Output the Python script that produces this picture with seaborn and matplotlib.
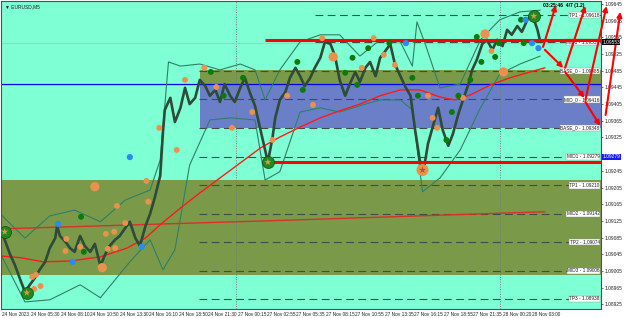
import matplotlib
matplotlib.use("Agg")
import matplotlib.pyplot as plt
import matplotlib.transforms as mtrans
import pandas as pd
import seaborn as sns

# ---------------- data ----------------
price_bar = [0, 4, 10, 15, 21, 26, 32, 37, 42, 48, 53, 59, 61, 64, 70, 75, 80, 86, 91, 97, 102, 108, 113, 118,
             124, 129, 135, 140, 146, 151, 157, 162, 167, 173, 176, 178, 184, 189, 195, 200, 205, 211, 216, 222,
             227, 233, 238, 243, 249, 254, 260, 265, 271, 276, 282, 287, 290, 295, 298, 303, 309, 314, 320, 325,
             330, 336, 341, 347, 352, 358, 363, 368, 374, 379, 385, 390, 396, 401, 407, 412, 417, 423, 428, 434,
             439, 445, 450, 455, 459, 464, 470, 475, 480, 486, 491, 497, 502, 508, 512, 517, 523, 528, 534, 539,
             545, 550, 555, 561, 566, 572, 577, 583, 586]
price = [1.09104, 1.09080, 1.09044, 1.09020, 1.08984, 1.08955, 1.08974, 1.08989, 1.09008, 1.09027, 1.09060,
         1.09084, 1.09113, 1.09089, 1.09075, 1.09060, 1.09051, 1.09089, 1.09065, 1.09051, 1.09070, 1.09017,
         1.09044, 1.09065, 1.09080, 1.09089, 1.09108, 1.09123, 1.09084, 1.09065, 1.09113, 1.09142, 1.09180,
         1.09233, 1.09338, 1.09391, 1.09420, 1.09362, 1.09396, 1.09444, 1.09405, 1.09420, 1.09463, 1.09448,
         1.09425, 1.09439, 1.09410, 1.09453, 1.09425, 1.09410, 1.09444, 1.09468, 1.09429, 1.09401, 1.09343,
         1.09295, 1.09266, 1.09324, 1.09372, 1.09415, 1.09434, 1.09468, 1.09492, 1.09472, 1.09448, 1.09468,
         1.09492, 1.09516, 1.09554, 1.09549, 1.09520, 1.09463, 1.09425, 1.09453, 1.09482, 1.09458, 1.09492,
         1.09506, 1.09472, 1.09516, 1.09530, 1.09549, 1.09501, 1.09472, 1.09448, 1.09425, 1.09343, 1.09271,
         1.09243, 1.09310, 1.09357, 1.09396, 1.09343, 1.09305, 1.09333, 1.09381, 1.09415, 1.09453, 1.09487,
         1.09511, 1.09549, 1.09559, 1.09535, 1.09559, 1.09544, 1.09583, 1.09571, 1.09592, 1.09578, 1.09607,
         1.09621, 1.09583, 1.09554]

upper_bar = [0, 26, 53, 80, 108, 135, 162, 173, 182, 195, 216, 238, 260, 276, 287, 303, 325, 347, 368, 390,
             412, 434, 447, 452, 461, 477, 499, 521, 542, 564, 586]
upper_val = [1.09140, 1.09084, 1.09137, 1.09151, 1.09123, 1.09175, 1.09199, 1.09271, 1.09506, 1.09496,
             1.09501, 1.09487, 1.09501, 1.09487, 1.09415, 1.09487, 1.09554, 1.09571, 1.09571, 1.09520,
             1.09559, 1.09554, 1.09496, 1.09602, 1.09549, 1.09444, 1.09453, 1.09559, 1.09607, 1.09626, 1.09630]
lower_bar = [0, 26, 53, 86, 108, 140, 162, 176, 189, 205, 227, 249, 276, 287, 303, 325, 347, 368, 390, 412,
             434, 447, 458, 477, 499, 521, 542, 564, 586]
lower_val = [1.09044, 1.08931, 1.08936, 1.08972, 1.08941, 1.09027, 1.09080, 1.09008, 1.09056, 1.09259,
             1.09367, 1.09372, 1.09367, 1.09223, 1.09243, 1.09386, 1.09396, 1.09386, 1.09401, 1.09415,
             1.09415, 1.09391, 1.09195, 1.09228, 1.09295, 1.09396, 1.09477, 1.09501, 1.09520]

ma_bar = [0, 21, 46, 75, 108, 137, 157, 173, 195, 216, 238, 260, 282, 303, 325, 347, 368, 390, 412, 434,
          455, 477, 493, 510, 532, 553, 575, 591]
ma_val = [1.09041, 1.09037, 1.09027, 1.09029, 1.09039, 1.09060, 1.09084, 1.09116, 1.09156, 1.09192,
          1.09228, 1.09264, 1.09300, 1.09326, 1.09350, 1.09372, 1.09389, 1.09405, 1.09425, 1.09439,
          1.09439, 1.09422, 1.09415, 1.09427, 1.09451, 1.09468, 1.09482, 1.09492]
slow_bar = [0, 300, 591]
slow_val = [1.09106, 1.09126, 1.09147]

level_val = [1.09618, 1.09553, 1.09485, 1.09416, 1.09348, 1.09279, 1.09210, 1.09142, 1.09074, 1.09006, 1.08938]
level_text = ["TP1 - 1.09618", "MID1 - 1.09553", "BASE_0 - 1.09485", "MID_0 - 1.09416", "BASE_0 - 1.09348",
              "MID1 - 1.09279", "TP1 - 1.09210", "MID2 - 1.09142", "TP2 - 1.09074", "MID3 - 1.09006",
              "TP3 - 1.08938"]
level_start = [341, 341, 215, 215, 215, 215, 215, 215, 215, 215, 215]

band_start = [0, 216, 216]
band_lo = [1.08996, 1.09453, 1.09348]
band_hi = [1.09223, 1.09487, 1.09453]
band_color = ["#7A9A4A", "#7A9A4A", "#6B7FC9"]

sr_start = [287, 287]
sr_val = [1.09559, 1.09266]
blue_level = 1.09453
bid_level = 1.09551
day_sep = [255, 542]

orange_bar = [34, 38, 36, 43, 71, 70, 86, 114, 116, 123, 124, 126, 135, 158, 160, 172, 191, 200, 221, 234,
              251, 273, 295, 311, 339, 349, 392, 405, 416, 428, 464, 469, 474, 502, 533]
orange_val = [1.08991, 1.08996, 1.08962, 1.08969, 1.09082, 1.09053, 1.09063, 1.09094, 1.09058, 1.09099,
              1.09060, 1.09161, 1.09120, 1.09221, 1.09171, 1.09348, 1.09295, 1.09463, 1.09492, 1.09446,
              1.09348, 1.09386, 1.09319, 1.09425, 1.09403, 1.09563, 1.09492, 1.09563, 1.09523, 1.09499,
              1.09425, 1.09372, 1.09348, 1.09420, 1.09532]
orange_big_bar = [102, 110, 361, 526, 546]
orange_big_val = [1.09207, 1.09013, 1.09518, 1.09573, 1.09482]
green_bar = [87, 90, 228, 242, 263, 322, 328, 374, 382, 387, 399, 422, 447, 453, 484, 490, 497, 510, 517,
             537, 541, 522, 565, 568]
green_val = [1.09135, 1.09051, 1.09482, 1.09425, 1.09468, 1.09506, 1.09439, 1.09480, 1.09516, 1.09451,
             1.09539, 1.09551, 1.09468, 1.09425, 1.09319, 1.09386, 1.09425, 1.09463, 1.09566, 1.09518,
             1.09551, 1.09506, 1.09607, 1.09551]
blue_bar = [62, 78, 153, 140, 440, 570, 577, 584]
blue_val = [1.09118, 1.09027, 1.09063, 1.09278, 1.09551, 1.09607, 1.09551, 1.09539]
star_bar = [4, 28, 290, 579]
star_val = [1.09099, 1.08953, 1.09266, 1.09616]
bigstar_bar = [458]
bigstar_val = [1.09247]

arrow_tail_bar = [589, 591, 613, 613, 635, 635, 657]
arrow_tail_val = [1.09542, 1.09535, 1.09492, 1.09482, 1.09415, 1.09410, 1.09379]
arrow_head_bar = [603, 611, 635, 634, 658, 651, 673]
arrow_head_val = [1.09642, 1.09492, 1.09640, 1.09420, 1.09640, 1.09353, 1.09626]

xtick_bar = [1, 33, 65, 97, 129, 161, 193, 225, 257, 289, 321, 353, 385, 417, 449, 481, 513, 545, 577]
xtick_text = ["24 Nov 2023", "24 Nov 05:30", "24 Nov 08:10", "24 Nov 10:50", "24 Nov 13:30", "24 Nov 16:10",
              "24 Nov 18:50", "24 Nov 21:30", "27 Nov 00:15", "27 Nov 02:55", "27 Nov 05:35", "27 Nov 08:15",
              "27 Nov 10:55", "27 Nov 13:35", "27 Nov 16:15", "27 Nov 18:55", "27 Nov 21:35", "28 Nov 00:20",
              "28 Nov 03:00"]
ytick_val = [1.08925, 1.08965, 1.09005, 1.09045, 1.09085, 1.09125, 1.09165, 1.09205, 1.09245, 1.09285,
             1.09325, 1.09365, 1.09405, 1.09445, 1.09485, 1.09525, 1.09565, 1.09605, 1.09645]
hidden_tick = 1.09285  # covered by the blue price box in the reference
bid_box = 1.09553
mid_box = 1.09279
status_text = "03:25:46  4/7 (1.2)"
title_text = "\u25BC EURUSD,M5"

# ---------------- figure ----------------
sns.set_style("white")
plt.rcParams["font.family"] = ["Liberation Sans", "DejaVu Sans"]

fig = plt.figure(figsize=(6.25, 3.18), dpi=100)
fig.patch.set_facecolor("white")
ax = fig.add_axes([1 / 625, 9 / 318, 600 / 625, 308 / 318])
ax.set_facecolor("#7FFFD4")
XMAX = 652
ax.set_xlim(0, XMAX)
ax.set_ylim(1.08914, 1.09652)

for s, lo, hi, c in zip(band_start, band_lo, band_hi, band_color):
    ax.fill_between([s, XMAX], lo, hi, color=c, lw=0, zorder=0.5)

for xs in day_sep:
    ax.axvline(xs, color="#6E7E78", ls=(0, (1, 1.5)), lw=0.7, zorder=1)

ax.axhline(bid_level, color="#B8C8C0", lw=0.8, zorder=1)
ax.axhline(blue_level, color="#0000FF", lw=0.9, zorder=1.2)

for s, v in zip(level_start, level_val):
    ax.plot([s, XMAX], [v, v], color="#3E4E44", lw=0.8, ls=(0, (7, 4)), zorder=1.1)

# indicator lines
sns.lineplot(x=upper_bar, y=upper_val, ax=ax, color="#2F7F66", lw=0.8, sort=False, estimator=None, zorder=2)
sns.lineplot(x=lower_bar, y=lower_val, ax=ax, color="#2F7F66", lw=0.8, sort=False, estimator=None, zorder=2)
sns.lineplot(x=slow_bar, y=slow_val, ax=ax, color="#D8302A", lw=1.0, sort=False, estimator=None, zorder=2.2)
sns.lineplot(x=ma_bar, y=ma_val, ax=ax, color="#FF1A1A", lw=1.0, sort=False, estimator=None, zorder=2.2)

# price
sns.lineplot(x=price_bar, y=price, ax=ax, color="#2E4A38", lw=1.9, sort=False, estimator=None, zorder=3)

# support/resistance
for s, v in zip(sr_start, sr_val):
    ax.plot([s, XMAX], [v, v], color="#FF0000", lw=2.2, zorder=3.5, solid_capstyle="butt")

# markers
sns.scatterplot(x=orange_bar, y=orange_val, ax=ax, s=18, color="#E8924E", edgecolor="none", zorder=4)
sns.scatterplot(x=orange_big_bar, y=orange_big_val, ax=ax, s=45, color="#E8924E", edgecolor="none", zorder=4)
sns.scatterplot(x=green_bar, y=green_val, ax=ax, s=18, color="#0A7A0A", edgecolor="none", zorder=4)
sns.scatterplot(x=blue_bar, y=blue_val, ax=ax, s=20, color="#2A8CF0", edgecolor="none", zorder=4)
sns.scatterplot(x=star_bar, y=star_val, ax=ax, s=75, color="#1E8A1E", edgecolor="#0E4E0E", linewidth=0.5, zorder=4.2)
sns.scatterplot(x=star_bar, y=star_val, ax=ax, s=28, marker="*", color="#E8924E", edgecolor="none", zorder=4.3)
sns.scatterplot(x=bigstar_bar, y=bigstar_val, ax=ax, s=75, color="#E8924E", edgecolor="none", zorder=4.2)
sns.scatterplot(x=bigstar_bar, y=bigstar_val, ax=ax, s=28, marker="*", color="#C0502A", edgecolor="none", zorder=4.3)

# level labels
for v, t in zip(level_val, level_text):
    ax.text(XMAX - 1.5, v, t, ha="right", va="center", fontsize=3.4, color="#202020", zorder=3.2,
            bbox=dict(facecolor="white", edgecolor="#909090", linewidth=0.3, pad=0.4))

# arrows
for tb, tv, hb, hv in zip(arrow_tail_bar, arrow_tail_val, arrow_head_bar, arrow_head_val):
    ax.annotate("", xy=(hb, hv), xytext=(tb, tv), annotation_clip=False, zorder=6,
                arrowprops=dict(arrowstyle="-|>", color="#FF0000", lw=1.5, mutation_scale=7,
                                shrinkA=0, shrinkB=0))

ax.text(612, 1.09641, status_text, ha="center", va="center", fontsize=3.6, fontweight="bold",
        color="black", zorder=7)
ax.text(0.006, 0.99, title_text, transform=ax.transAxes, ha="left", va="top", fontsize=3.5,
        color="#202020", zorder=7)

# axes styling
ax.yaxis.tick_right()
ax.set_yticks(ytick_val)
ax.set_yticklabels(["" if abs(v - hidden_tick) < 1e-7 else f"{v:.5f}" for v in ytick_val],
                   fontsize=3.5, color="#202020")
ax.set_xticks(xtick_bar)
ax.set_xticklabels(xtick_text, fontsize=3.4, color="#202020", ha="left")
ax.tick_params(axis="both", length=1.5, width=0.5, pad=0.8, color="#404040")
for sp in ax.spines.values():
    sp.set_color("#505050")
    sp.set_linewidth(0.8)
ax.set_xlabel("")
ax.set_ylabel("")
if ax.get_legend() is not None:
    ax.get_legend().remove()

tr = mtrans.blended_transform_factory(ax.transAxes, ax.transData)
ax.text(1.002, bid_box, f"{bid_box:.5f}", transform=tr, ha="left", va="center", fontsize=3.5, color="white",
        bbox=dict(facecolor="black", edgecolor="none", pad=0.4), clip_on=False, zorder=8)
ax.text(1.002, mid_box, f"{mid_box:.5f}", transform=tr, ha="left", va="center", fontsize=3.5, color="white",
        bbox=dict(facecolor="#1A1AFF", edgecolor="none", pad=0.4), clip_on=False, zorder=8)

fig.savefig("out.png", dpi=100, facecolor="white")
